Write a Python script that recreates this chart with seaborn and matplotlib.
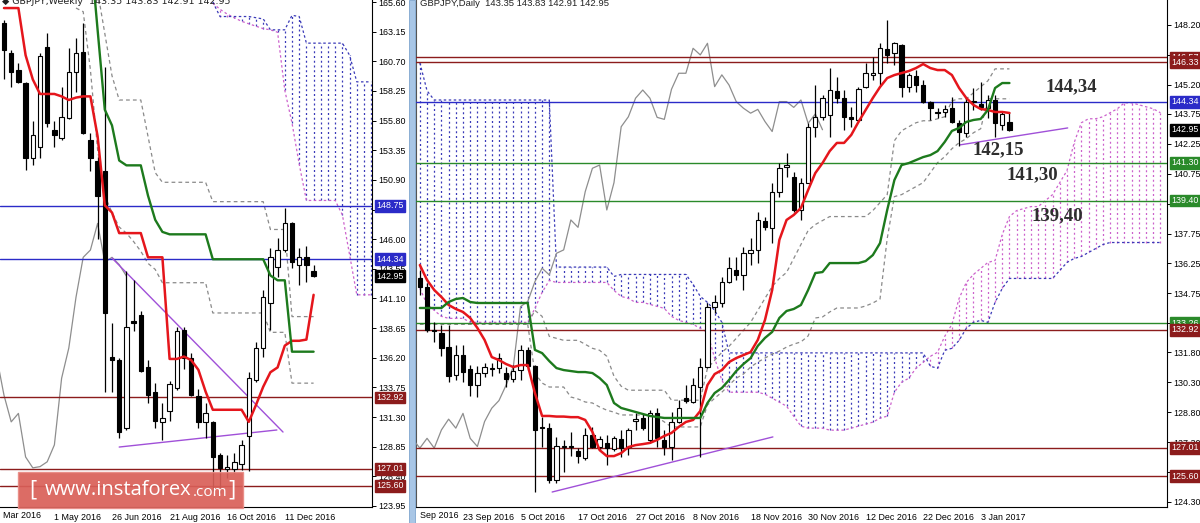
import numpy as np
import matplotlib
matplotlib.use("Agg")
import matplotlib.pyplot as plt
import matplotlib.transforms as mtransforms
from matplotlib.patches import Rectangle
import seaborn as sns

# ======================= DATA : weekly panel (left) =======================
week_open = [163.9,161.4,160.0,158.9,152.7,153.6,161.9,155.0,154.4,156.0,159.8,161.5,154.2,152.5,151.6,136.3,136.0,130.4,139.2,139.7,
             135.4,133.4,130.9,131.8,133.7,138.5,136.2,133.0,130.9,130.9,128.2,127.0,127.0,127.4,129.7,134.4,137.0,140.7,143.7,145.1,
             147.3,143.9,144.5,143.35]
week_high = [164.1,161.6,160.6,159.0,155.8,161.4,163.0,155.8,158.6,161.8,162.6,163.9,154.8,152.8,160.2,139.1,136.2,143.4,142.6,140.1,
             136.0,134.1,132.5,134.3,138.7,138.7,136.6,133.6,132.5,131.0,128.3,128.2,128.3,129.4,135.0,137.5,141.8,145.3,146.1,148.6,
             147.4,145.3,145.4,143.83]
week_low = [159.2,158.6,158.9,151.7,152.1,152.7,155.3,153.6,154.2,155.9,158.2,154.7,151.6,146.0,133.4,133.4,129.6,130.2,138.4,135.0,
            132.5,130.4,129.4,131.0,133.5,135.3,133.0,130.4,129.6,125.2,125.0,126.3,126.7,126.9,126.8,134.2,136.3,138.5,142.9,144.9,
            143.6,142.2,142.5,142.91]
week_close = [161.6,159.8,159.0,152.7,154.6,161.1,155.6,154.6,156.1,159.8,161.4,154.8,152.7,149.6,139.9,136.0,130.1,138.7,139.1,135.1,
              133.1,131.0,131.2,134.0,138.4,136.2,133.1,130.9,131.6,128.0,127.1,127.2,127.6,129.0,134.5,137.0,141.2,144.5,145.1,147.3,
              144.1,144.5,143.9,142.95]
week_tenkan = [165.1,165.1,165.1,161.2,159.2,158.0,158.0,158.0,157.8,157.5,157.7,157.8,157.8,154.5,148.8,148.2,146.5,146.5,146.5,146.5,
               144.5,144.5,144.5,136.1,136.1,136.3,136.0,135.2,133.4,131.9,131.9,131.9,131.9,131.9,130.9,132.3,133.8,135.0,135.4,137.2,
               137.6,137.6,137.7,141.4]
week_kijun_start = 12
week_kijun = [170.0,163.3,156.7,155.4,152.5,152.1,152.1,152.1,149.6,147.6,146.6,146.4,146.4,146.4,146.4,146.4,146.4,
              144.34,144.34,144.34,144.34,144.34,144.34,144.34,144.34,143.0,142.6,142.6,136.7,136.7,136.7,136.7]
week_dash1_start = 13
week_dash1 = [166.5,163.0,159.5,157.5,157.5,157.5,157.5,154.5,151.5,150.7,150.7,150.7,150.7,150.7,150.7,150.7,
              149.1,149.1,149.1,149.1,149.1,149.1,149.1,149.1,146.8,146.8,146.8,139.6,139.6,139.6,139.6]
week_dash2_start = 10
week_dash2 = [165.1,164.8,160.0,153.4,149.6,148.2,147.0,146.5,145.8,145.0,144.0,143.5,142.4,142.4,142.4,142.4,142.4,142.4,142.4,
              139.9,139.9,139.9,139.9,139.9,139.9,139.9,139.9,138.3,138.3,138.3,134.1,134.1,134.1,134.1]
week_cloud_start = 29
week_span_a = [165.5,165.0,164.6,164.3,164.0,163.8,163.6,163.4,163.3,163.1,158.3,155.6,152.2,149.2,149.2,149.2,149.2,149.2,
               148.0,144.7,141.4,141.4,141.4]
week_span_b = [165.6,164.4,164.4,164.4,164.4,164.4,164.3,164.2,163.3,163.3,163.3,164.5,164.4,162.2,162.2,162.2,162.2,162.2,
               162.2,161.2,159.0,159.0,159.0]
week_xticks = [7, 15, 23, 31, 39]
week_xlabels = ["1 May 2016", "26 Jun 2016", "21 Aug 2016", "16 Oct 2016", "11 Dec 2016"]
week_yticks = [165.60,163.15,160.70,158.25,155.80,153.35,150.90,148.45,146.00,143.55,141.10,138.65,136.20,133.75,131.30,128.85,126.40,123.95]
week_levels = [148.75, 144.34, 132.92, 127.01, 125.60]
week_level_kind = ["blue", "blue", "red", "red", "red"]
week_trend_x = [[15.0, 38.75], [16.0, 37.9]]
week_trend_y = [[144.44, 130.06], [128.82, 130.23]]

# ======================= DATA : daily panel (right) =======================
day_start = -6
day_open = [135.51,135.09,132.90,132.79,132.09,130.67,131.67,130.95,130.17,130.75,
            130.98,131.00,130.78,130.45,130.92,131.92,131.12,128.05,128.00,125.41,
            127.08,127.10,126.83,126.49,127.66,127.08,127.28,126.94,127.44,127.08,
            128.38,128.50,127.41,128.74,127.41,127.08,128.33,129.50,129.33,130.08,
            131.08,134.09,134.26,135.34,135.93,135.68,136.76,136.93,138.38,138.01,
            139.85,141.10,140.60,138.93,140.30,143.10,143.60,143.69,144.91,144.53,
            143.61,143.44,145.11,145.70,145.78,146.98,146.78,147.20,145.11,145.64,
            145.19,144.36,143.80,143.86,144.02,143.27,142.77,144.40,144.24,144.03,
            144.44,143.19,143.35]
day_high = [135.93,135.26,133.34,133.17,133.17,132.17,132.17,131.17,131.12,131.25,
            131.25,131.75,131.08,131.17,132.17,132.09,131.17,128.58,128.25,127.58,
            127.41,127.83,127.00,128.00,128.08,127.60,127.66,127.61,127.91,127.99,
            128.74,128.74,128.91,129.00,127.91,128.83,129.41,130.16,130.50,131.50,
            134.26,134.67,135.59,136.59,136.59,137.10,137.51,138.85,138.60,140.27,
            141.27,141.77,140.85,140.52,143.27,145.19,144.69,146.03,145.61,144.94,
            144.11,145.11,146.28,146.61,147.28,148.45,147.35,147.25,145.78,145.95,
            145.44,144.40,144.02,144.19,144.61,143.44,144.61,145.03,145.36,144.69,
            144.69,143.86,143.83]
day_low = [134.68,132.84,132.34,131.59,130.33,130.42,130.33,129.62,129.58,130.58,
           130.62,130.75,130.08,130.33,130.42,130.92,124.82,127.08,125.24,125.24,
           125.82,126.58,126.24,126.41,127.00,126.91,126.16,126.87,126.57,126.66,
           127.91,127.91,127.24,127.08,126.66,126.41,128.24,129.25,129.25,126.57,
           131.00,133.76,134.09,135.26,135.43,134.92,136.18,136.26,137.93,137.26,
           139.60,140.60,138.85,138.43,140.27,142.60,143.44,142.60,144.27,142.94,
           143.11,143.36,145.03,145.44,145.19,146.28,146.20,144.61,144.86,144.86,
           144.27,143.44,143.52,143.61,143.27,142.15,142.60,143.94,143.94,143.52,
           142.60,142.94,142.91]
day_close = [135.09,132.92,132.85,132.00,130.62,131.67,130.83,130.17,130.75,131.05,
             131.02,131.50,130.45,130.88,131.92,131.09,127.91,128.00,125.41,127.13,
             127.10,127.08,126.58,127.66,127.08,127.45,127.00,127.49,127.00,127.91,
             128.45,128.00,128.74,127.49,127.08,128.33,129.00,129.38,130.16,131.08,
             134.09,134.34,135.34,136.01,135.68,136.76,136.93,138.43,138.06,139.85,
             141.02,141.18,138.93,140.30,143.10,143.60,144.53,144.94,144.53,143.57,
             143.47,144.98,145.78,145.78,147.03,146.70,147.28,145.11,145.70,145.19,
             144.36,144.03,143.78,143.97,143.36,142.86,144.36,144.36,144.07,144.44,
             143.27,143.74,142.95]
day_tenkan = [136.17,135.42,134.92,134.57,134.17,133.97,133.82,133.52,133.02,132.42,131.56,131.41,131.21,131.06,131.16,131.16,
              129.76,128.61,128.61,128.58,128.58,128.55,128.55,128.41,127.81,126.9,
              126.6,126.6,126.75,127.05,127.15,127.2,127.26,127.41,127.61,127.76,
              128.06,128.31,128.41,128.86,130.16,130.71,130.91,131.31,131.51,131.66,
              131.81,132.42,133.42,134.92,137.43,138.43,138.68,139.03,139.93,140.78,
              141.28,141.88,142.29,142.29,142.69,143.34,143.94,144.54,145.09,145.54,
              145.69,145.79,145.89,146.04,146.24,146.04,145.94,145.94,145.69,145.04,
              144.54,144.19,143.99,143.94,143.84,143.84,143.79]
day_kijun = [134.02,134.02,134.02,134.02,134.32,134.47,134.52,134.32,134.27,
             134.27,134.27,134.27,134.27,134.27,134.27,134.27,
             131.92,131.76,131.36,131.01,130.91,130.86,130.81,130.81,130.76,130.51,
             130.16,129.26,129.01,128.91,128.81,128.71,128.61,128.56,
             128.51,128.51,128.51,128.51,128.51,128.51,
             129.26,129.76,130.01,130.41,130.86,131.21,131.51,132.12,132.52,132.82,133.52,133.87,133.97,134.17,134.92,135.77,135.82,
             136.27,136.27,136.27,136.27,136.27,
             136.37,136.67,137.27,138.93,140.43,141.18,141.28,141.43,141.58,141.68,141.88,142.34,142.89,143.04,143.34,143.44,143.49,
             143.94,145.04,145.29,145.29]
day_dash_u = [133.2,133.2,133.2,133.2,133.2,133.2,133.2,133.2,133.2,133.2,133.2,133.2,133.2,133.2,133.2,133.2,
              133.9,133.6,132.6,132.5,132.4,132.4,132.4,132.2,132.0,131.9,
              131.6,130.6,130.1,129.9,129.9,129.9,129.9,129.9,129.9,129.4,129.4,129.4,129.4,129.4,
              131.0,131.4,131.8,132.1,132.5,132.9,133.3,133.9,134.5,135.1,135.5,135.8,
              136.5,137.2,137.9,138.2,138.4,138.6,138.6,138.6,138.6,138.6,138.6,
              138.9,139.3,139.7,142.4,142.9,143.1,143.3,143.4,143.4,143.5,143.6,144.4,144.5,144.5,144.8,145.1,145.4,
              146.0,146.0,146.0]
day_dash_m_start = 9
day_dash_m = [133.2,130.76,130.26,130.06,130.06,130.06,129.56,129.46,129.31,129.26,129.06,128.9,128.8,
              128.66,128.66,128.66,128.66,128.66,128.56,128.31,128.06,128.06,128.06,128.06,128.06,
              129.16,129.5,129.8,130.16,130.5,130.71,131.06,131.31,131.51,131.71,131.86,132.06,132.21,132.32,132.62,
              133.52,133.57,133.82,134.02,134.02,134.02,134.02,134.12,134.27,134.47,
              137.5,139.6,139.7,139.9,140.1,140.3,140.8,141.3,141.6,142.0,142.3,142.5,142.8,143.0,
              144.5,144.5,144.5,144.5]
day_span_a = [135.0,134.2,133.9,133.6,133.5,133.5,133.5,133.3,133.3,133.3,133.3,133.3,133.3,133.3,133.3,133.3,
              134.0,134.8,135.4,135.3,135.3,135.3,135.3,135.3,135.3,135.3,135.3,
              134.9,134.6,134.5,134.3,134.3,134.2,134.1,134.0,133.6,133.4,133.3,133.2,133.0,132.8,131.5,130.4,
              129.8,129.8,129.8,129.8,129.8,129.7,129.5,129.3,129.1,128.6,128.1,128.0,128.0,128.0,127.9,127.9,127.9,
              128.0,128.1,128.2,128.3,128.5,128.6,129.8,130.3,130.5,131.0,131.3,131.6,131.8,132.6,133.2,134.5,135.3,
              135.7,136.0,136.3,136.4,137.7,138.6,138.9,139.0,139.1,139.1,139.4,139.7,140.3,140.9,142.3,143.3,143.5,
              143.5,143.6,143.8,144.0,144.3,144.3,144.2,144.1,144.0,143.8]
day_span_b = [146.3,144.9,144.44,144.44,144.44,144.44,144.44,144.44,144.44,144.44,144.44,144.44,144.44,144.44,144.44,144.44,
              144.44,144.44,144.44,136.07,136.07,136.07,136.07,136.07,136.07,136.07,136.07,135.6,
              135.7,135.7,135.7,135.7,135.7,135.7,135.7,135.7,135.7,135.7,135.2,134.6,134.3,133.9,133.3,
              131.77,131.77,131.77,131.77,131.77,131.77,131.77,131.77,131.77,131.77,131.77,131.77,131.77,131.77,
              131.77,131.77,131.77,131.77,131.77,131.77,131.77,131.77,131.77,131.77,131.77,131.77,131.77,131.77,
              131.1,131.0,131.9,132.0,132.4,133.0,133.3,133.4,133.3,134.3,135.0,
              135.5,135.5,135.5,135.5,135.5,135.5,135.5,135.9,136.3,136.5,136.6,136.8,137.0,137.2,
              137.3,137.3,137.3,137.3,137.3,137.3,137.3,137.3]
day_xticks = [0, 8, 16, 24, 32, 40, 48, 56, 64, 72]
day_xlabels = ["23 Sep 2016", "5 Oct 2016", "17 Oct 2016", "27 Oct 2016", "8 Nov 2016", "18 Nov 2016",
               "30 Nov 2016", "12 Dec 2016", "22 Dec 2016", "3 Jan 2017"]
day_yticks = [148.20,146.70,145.20,143.75,142.25,140.75,139.25,137.75,136.25,134.75,133.25,131.80,130.30,128.80,127.30,125.80,124.30]
day_levels = [146.57, 146.33, 144.34, 141.30, 139.40, 133.26, 132.92, 127.01, 125.60]
day_level_kind = ["red", "red", "blue", "green", "green", "green", "red", "red", "red"]
day_trend_x = [[12.4, 43.1], [69.1, 84.1]]
day_trend_y = [[124.80, 127.56], [142.19, 143.04]]
annot_text = ["144,34", "142,15", "141,30", "139,40"]
last_price = 142.95

# ======================= STYLE =======================
sns.set_theme(style="white")
plt.rcParams['font.family'] = ['Liberation Sans', 'DejaVu Sans']

COL = {"red": "#8c1c1c", "blue": "#2b2bc8", "green": "#2a8a2a", "black": "black"}
TENKAN = "#e5161c"
KIJUN = "#1d7a1d"
CHIKOU = "#8e8e8e"
DASH = "#8a8a8a"
SPAN_A = "#cc62cc"
SPAN_B = "#3a3ab8"
PURPLE = "#a050d8"
LBL = 6.4

W, H = 1200, 523
fig = plt.figure(figsize=(12, 5.23), dpi=100)
fig.patch.set_facecolor("white")


def fx(px):
    return px / W


def fy(py):
    return 1 - py / H


axL = fig.add_axes([0, fy(507), fx(372), 507 / H])
axR = fig.add_axes([fx(416), fy(507), fx(1167 - 416), 507 / H])


def candles(ax, x, o, h, l, c, width):
    o, h, l, c = map(np.asarray, (o, h, l, c))
    ax.vlines(x, l, h, color="black", linewidth=0.9, zorder=5)
    up = c >= o
    bottom = np.minimum(o, c)
    height = np.maximum(np.abs(c - o), 0.04)
    ax.bar(x[up], height[up], bottom=bottom[up], width=width, color="white",
           edgecolor="black", linewidth=0.8, zorder=6)
    ax.bar(x[~up], height[~up], bottom=bottom[~up], width=width, color="black",
           edgecolor="black", linewidth=0.8, zorder=6)


def cloud(ax, x, a, b):
    a = np.asarray(a)
    b = np.asarray(b)
    lo = np.minimum(a, b)
    hi = np.maximum(a, b)
    bull = a >= b
    ax.vlines(x[bull], lo[bull], hi[bull], colors=SPAN_A, linestyles=(0, (1.6, 2.2)), linewidth=0.9, zorder=2)
    ax.vlines(x[~bull], lo[~bull], hi[~bull], colors=SPAN_B, linestyles=(0, (1.6, 2.2)), linewidth=0.9, zorder=2)
    ax.plot(x, a, color=SPAN_A, ls=(0, (2, 2)), lw=0.9, zorder=2)
    ax.plot(x, b, color=SPAN_B, ls=(0, (2, 2)), lw=0.9, zorder=2)


def finish(ax, xlim, ylim, yticks, xticks, xlabels, levels, kinds, boxes, width_px):
    for v, k in zip(levels, kinds):
        ax.axhline(v, color=COL[k], lw=1.0, zorder=3)
    ax.set_xlim(*xlim)
    ax.set_ylim(*ylim)
    ax.yaxis.tick_right()
    ax.set_yticks(yticks)
    ax.set_yticklabels(["%.2f" % t for t in yticks])
    ax.set_xticks(xticks)
    ax.set_xticklabels(xlabels)
    for lbl in ax.get_xticklabels():
        lbl.set_horizontalalignment("left")
    ax.tick_params(axis="y", direction="out", length=3, pad=1.5, labelsize=LBL, colors="black", width=0.7)
    ax.tick_params(axis="x", direction="out", length=3, pad=1.5, labelsize=LBL, colors="black", width=0.7)
    ax.set_xlabel("")
    ax.set_ylabel("")
    ax.grid(False)
    ax.set_facecolor("white")
    for s in ["top", "left"]:
        ax.spines[s].set_visible(False)
    for s in ["right", "bottom"]:
        ax.spines[s].set_visible(True)
        ax.spines[s].set_color("black")
        ax.spines[s].set_linewidth(0.8)
    tr = mtransforms.blended_transform_factory(ax.transAxes, ax.transData)
    for v, k in boxes:
        ax.text(1 + 4.5 / width_px, v, "%.2f" % v, transform=tr, ha="left", va="center", fontsize=LBL,
                color="white", zorder=10, clip_on=False,
                bbox=dict(boxstyle="square,pad=0.15", fc=COL[k], ec=COL[k]))


# ======================= LEFT : weekly =======================
wi = np.arange(len(week_open))
cloud(axL, np.arange(week_cloud_start, week_cloud_start + len(week_span_a)), week_span_a, week_span_b)
axL.plot(np.arange(week_dash1_start, week_dash1_start + len(week_dash1)), week_dash1, color=DASH, ls=(0, (3, 2.5)), lw=0.9, zorder=3)
axL.plot(np.arange(week_dash2_start, week_dash2_start + len(week_dash2)), week_dash2, color=DASH, ls=(0, (3, 2.5)), lw=0.9, zorder=3)
chk = wi - 26
keep = chk >= -2
sns.lineplot(x=chk[keep], y=np.asarray(week_close)[keep], ax=axL, color=CHIKOU, linewidth=0.9, zorder=3)
for tx, ty in zip(week_trend_x, week_trend_y):
    axL.plot(tx, ty, color=PURPLE, lw=1.0, zorder=4)
candles(axL, wi, week_open, week_high, week_low, week_close, 0.6)
sns.lineplot(x=wi, y=week_tenkan, ax=axL, color=TENKAN, linewidth=1.8, zorder=7)
sns.lineplot(x=np.arange(week_kijun_start, week_kijun_start + len(week_kijun)), y=week_kijun, ax=axL,
             color=KIJUN, linewidth=1.7, zorder=7)
boxesL = [(v, k) for v, k in zip(week_levels, week_level_kind)] + [(last_price, "black")]
finish(axL, (-4 / 7.2, (372 - 4) / 7.2), (165.6 - 505 / 12.1, 165.6 + 2 / 12.1), week_yticks,
       week_xticks, week_xlabels, week_levels, week_level_kind, boxesL, 372)

# ======================= RIGHT : daily =======================
dj = np.arange(day_start, day_start + len(day_open))
cj = np.arange(day_start, day_start + len(day_span_a))
cloud(axR, cj, day_span_a, day_span_b)
axR.plot(dj, day_dash_u, color=DASH, ls=(0, (3, 2.5)), lw=0.9, zorder=3)
axR.plot(np.arange(day_dash_m_start, day_dash_m_start + len(day_dash_m)), day_dash_m, color=DASH,
         ls=(0, (3, 2.5)), lw=0.9, zorder=3)
chkR = dj - 26
keepR = chkR >= -7
sns.lineplot(x=chkR[keepR], y=np.asarray(day_close)[keepR], ax=axR, color=CHIKOU, linewidth=0.9, zorder=3)
for tx, ty in zip(day_trend_x, day_trend_y):
    axR.plot(tx, ty, color=PURPLE, lw=1.0, zorder=4)
candles(axR, dj, day_open, day_high, day_low, day_close, 0.6)
sns.lineplot(x=dj, y=day_tenkan, ax=axR, color=TENKAN, linewidth=1.8, zorder=7)
sns.lineplot(x=dj, y=day_kijun, ax=axR, color=KIJUN, linewidth=1.7, zorder=7)
boxesR = [(v, k) for v, k in zip(day_levels, day_level_kind)] + [(last_price, "black")]
finish(axR, ((416 - 463) / 7.19, (1167 - 463) / 7.19), (149.45 - 507 / 19.96, 149.45), day_yticks,
       day_xticks, day_xlabels, day_levels, day_level_kind, boxesR, 751)
axR.spines["left"].set_visible(True)
axR.spines["left"].set_color("#555555")
axR.spines["left"].set_linewidth(0.8)

# annotations on daily panel (bold serif numbers)
annot_pos = [(1071, 87), (998, 150), (1032, 175), (1057, 216)]
for t, (px, py) in zip(annot_text, annot_pos):
    fig.text(fx(px), fy(py), t, ha="center", va="center", fontsize=13.5, fontweight="bold",
             family="Liberation Serif", color="#2e2e2e", zorder=12)

# titles
fig.text(fx(2), fy(2), "\u25c6 GBPJPY,Weekly  143.35 143.83 142.91 142.95", ha="left", va="center",
         fontsize=6.8, color="#222222", family=["DejaVu Sans"], zorder=12)
fig.text(fx(420), fy(3), "GBPJPY,Daily  143.35 143.83 142.91 142.95", ha="left", va="center",
         fontsize=6.8, color="#222222", zorder=12)
# partial first date labels
fig.text(fx(3), fy(516), "Mar 2016", ha="left", va="center", fontsize=LBL, color="black")
fig.text(fx(420), fy(516), "Sep 2016", ha="left", va="center", fontsize=LBL, color="black")

# separator strip between the panels
fig.add_artist(Rectangle((fx(409), 0), fx(6), 1, transform=fig.transFigure, facecolor="#a8c6e6",
                         edgecolor="#7fa6cf", linewidth=0.6, zorder=9))

# watermark
fig.add_artist(Rectangle((fx(18), fy(508)), fx(225), 36 / H, transform=fig.transFigure,
                         facecolor="#d95f58", edgecolor="#e98b85", linewidth=1.0, alpha=0.92, zorder=13))
fig.text(fx(29), fy(490), "[", ha="left", va="center", fontsize=16, color="white", family="Open Sans", zorder=14)
t_main = fig.text(fx(45), fy(490), "www.instaforex", ha="left", va="center", fontsize=14.5, color="white",
                  family="Open Sans", zorder=14)
fig.canvas.draw()
bb = t_main.get_window_extent(renderer=fig.canvas.get_renderer())
fig.text(bb.x1 / W + fx(1), fy(492), ".com", ha="left", va="center", fontsize=11, color="white",
         family="Open Sans", zorder=14)
fig.text(fx(228), fy(490), "]", ha="left", va="center", fontsize=16, color="white", family="Open Sans", zorder=14)

fig.savefig("out.png", dpi=100)
